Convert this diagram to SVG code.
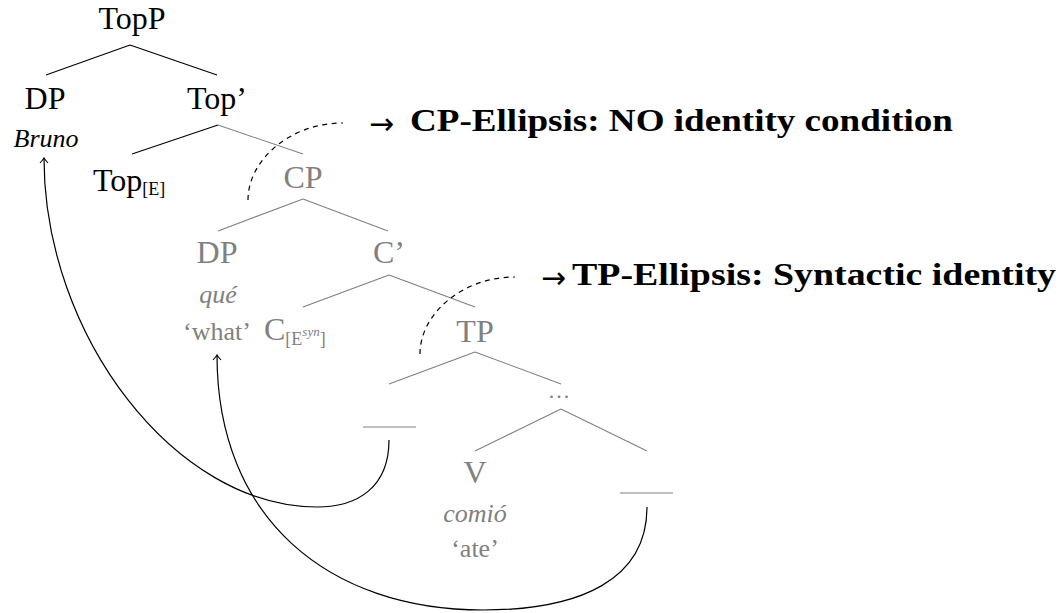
<svg xmlns="http://www.w3.org/2000/svg" width="1062" height="613" viewBox="0 0 1062 613" font-family="'Liberation Serif', 'Times New Roman', 'DejaVu Serif', serif">
<style>
.n{font-size:32px;text-anchor:middle;}
.w{font-size:26px;text-anchor:middle;}
.it{font-style:italic;}
.k{fill:#000;}
.g{fill:#808080;}
.ek{stroke:#000;stroke-width:1.1;fill:none;}
.eg{stroke:#808080;stroke-width:1.1;fill:none;}
.mv{stroke:#000;stroke-width:1.2;fill:none;marker-end:url(#ah);}
.ds{stroke:#000;stroke-width:1.2;fill:none;stroke-dasharray:5 4.5;}
.lab{font-size:32px;font-weight:bold;fill:#000;}
.arr{font-size:30px;fill:#000;font-family:'DejaVu Sans',sans-serif;}
</style>
<defs>
<marker id="ah" viewBox="-6 -5 8 10" refX="0" refY="0" markerWidth="8" markerHeight="10" markerUnits="userSpaceOnUse" orient="auto">
<path d="M-5,-4 Q-1.5,-0.8 0,0 Q-1.5,0.8 -5,4" fill="none" stroke="#000" stroke-width="1.1"/>
</marker>
</defs>
<g id="connectors">
<line class="ek" x1="130" y1="45" x2="46" y2="75"/>
<line class="ek" x1="130" y1="45" x2="217" y2="75"/>
<line class="ek" x1="218" y1="125" x2="132" y2="154"/>
<line class="eg" x1="218" y1="125" x2="303" y2="154"/>
<line class="eg" x1="303" y1="199" x2="218" y2="231"/>
<line class="eg" x1="303" y1="199" x2="388" y2="231"/>
<line class="eg" x1="389" y1="275" x2="303" y2="307"/>
<line class="eg" x1="389" y1="275" x2="475" y2="307"/>
<line class="eg" x1="475" y1="352" x2="389" y2="384"/>
<line class="eg" x1="475" y1="352" x2="561" y2="384"/>
<line class="eg" x1="561" y1="409" x2="475" y2="451"/>
<line class="eg" x1="561" y1="409" x2="647" y2="451"/>
<path class="mv" d="M389,440 C389,487 358,507 317,507 C175,507 44,335 44,158"/>
<path class="mv" d="M647,507 C647,580 580,610 483,610 C330,610 217,520 217,355"/>
<path class="ds" d="M248,200 C248,160 290,123 343,123"/>
<path class="ds" d="M420,354 C420,314 462,277 515,277"/>
</g>
<g id="n-topp"><text class="n k" x="132" y="29">TopP</text></g>
<g id="n-dp1"><text class="n k" x="45" y="109">DP</text><text class="w k it" x="46" y="147">Bruno</text></g>
<g id="n-topbar"><text class="n k" x="217" y="109">Top’</text></g>
<g id="n-tope"><text class="k" x="93" y="191" font-size="32">Top<tspan font-size="18" dy="4">[E]</tspan></text></g>
<g id="n-cp"><text class="n g" x="303" y="188">CP</text></g>
<g id="n-dp2"><text class="n g" x="217" y="263">DP</text><text class="w g it" x="218" y="303">qué</text><text class="w g" x="217" y="340">‘what’</text></g>
<g id="n-cbar"><text class="n g" x="389" y="263">C’</text></g>
<g id="n-c"><text class="g" x="264" y="340" font-size="32">C<tspan font-size="18" dy="5">[E</tspan><tspan font-size="13" font-style="italic" dy="-9">syn</tspan><tspan font-size="18" dy="9">]</tspan></text></g>
<g id="n-tp"><text class="n g" x="475" y="342">TP</text></g>
<g id="n-dots"><text class="g" x="560" y="398" font-size="22" text-anchor="middle" letter-spacing="2">...</text></g>
<g id="n-t1"><line class="eg" x1="363" y1="427" x2="416" y2="427" stroke-width="1.5"/></g>
<g id="n-v"><text class="n g" x="475" y="483">V</text><text class="w g it" x="475" y="522">comió</text><text class="w g" x="475" y="557">‘ate’</text></g>
<g id="n-t2"><line class="eg" x1="620" y1="493" x2="673" y2="493" stroke-width="1.5"/></g>
<g id="n-lab1"><text class="arr" x="369" y="134" textLength="25" lengthAdjust="spacingAndGlyphs">→</text><text class="lab" x="410" y="131" textLength="543" lengthAdjust="spacingAndGlyphs">CP-Ellipsis: NO identity condition</text></g>
<g id="n-lab2"><text class="arr" x="541" y="288" textLength="25" lengthAdjust="spacingAndGlyphs">→</text><text class="lab" x="572" y="285" textLength="484" lengthAdjust="spacingAndGlyphs">TP-Ellipsis: Syntactic identity</text></g>
</svg>
